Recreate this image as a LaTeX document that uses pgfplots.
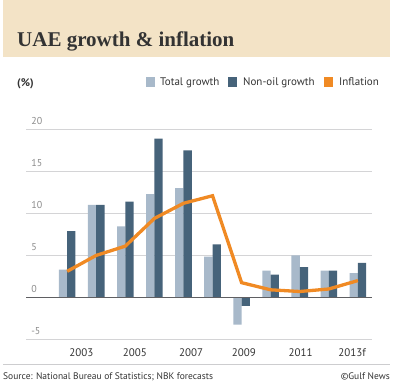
\documentclass[border=0pt]{standalone}
\usepackage{pgfplots}
\pgfplotsset{compat=1.18}
\usepackage{fontspec}
\setmainfont{PT Sans}
\newfontfamily\titlefont{Liberation Serif}
\definecolor{beige}{HTML}{F3E3C6}
\definecolor{lightbar}{HTML}{A8B9CA}
\definecolor{darkbar}{HTML}{46637A}
\definecolor{infl}{HTML}{F08A24}
\definecolor{txt}{HTML}{333333}
\definecolor{ticktxt}{HTML}{8A8A8A}
\definecolor{gridc}{RGB}{212,212,214}
\definecolor{zeroc}{RGB}{95,95,98}
\definecolor{sepc}{RGB}{205,205,207}
\begin{document}
\begin{tikzpicture}[x=1pt,y=1pt]
\path[use as bounding box] (0,0) rectangle (400,385);
\fill[beige] (3,328) rectangle (390,385);
\node[anchor=base west, inner sep=0, text=txt, font=\titlefont\bfseries\fontsize{21}{23}\selectfont] at (17,338.3) {UAE growth \& inflation};
% legend
\node[anchor=base west, inner sep=0, text=txt, font=\bfseries\fontsize{11}{13}\selectfont] at (17,298) {(\%)};
\fill[lightbar] (146,298) rectangle (155,308);
\node[anchor=base west, inner sep=0, text=txt, font=\fontsize{11}{13}\selectfont] at (160,299) {Total growth};
\fill[darkbar] (228,298) rectangle (237,308);
\node[anchor=base west, inner sep=0, text=txt, font=\fontsize{11}{13}\selectfont] at (243,299) {Non-oil growth};
\fill[infl] (324,298) rectangle (333,308);
\node[anchor=base west, inner sep=0, text=txt, font=\fontsize{11}{13}\selectfont] at (339,299) {Inflation};
\begin{axis}[
  at={(9,54.3)}, anchor=south west, scale only axis,
  width=346, height=210,
  xmin=-1.41, xmax=10.49, ymin=-5, ymax=20,
  axis line style={draw=none},
  tick style={draw=none},
  /pgf/number format/assume math mode=true,
  ytick={-5,0,5,10,15,20},
  yticklabel style={anchor=south west, inner sep=0, xshift=5pt, yshift=5pt, text=ticktxt, font=\fontsize{10}{12}\selectfont},
  xtick={0.49,2.33,4.26,6.08,8.03,9.8},
  xticklabels={2003,2005,2007,2009,2011,2013f},
  xticklabel style={text=txt, font=\fontsize{11}{13}\selectfont, yshift=-6pt},
  clip=false,
  gridl/.style={draw=gridc, line width=0.8pt, solid, mark=none, forget plot},
]
\addplot[gridl] coordinates {(-1.41,20) (10.49,20)};
\addplot[gridl] coordinates {(-1.41,15) (10.49,15)};
\addplot[gridl] coordinates {(-1.41,10) (10.49,10)};
\addplot[gridl] coordinates {(-1.41,5) (10.49,5)};
\addplot[gridl] coordinates {(-1.41,-5) (10.49,-5)};
\addplot[ybar, bar width=8.3pt, bar shift=-4.15pt, fill=lightbar, draw=none] coordinates {
(0,3.3) (1,11.0) (2,8.45) (3,12.3) (4,13.0) (5,4.85) (6,-3.25) (7,3.2) (8,5.0) (9,3.2) (10,2.9)};
\addplot[ybar, bar width=8.3pt, bar shift=4.15pt, fill=darkbar, draw=none] coordinates {
(0,7.9) (1,11.0) (2,11.4) (3,18.9) (4,17.5) (5,6.3) (6,-1.0) (7,2.7) (8,3.6) (9,3.2) (10,4.1)};
\addplot[draw=zeroc, line width=1.2pt, solid, mark=none, forget plot] coordinates {(-1.41,0) (10.49,0)};
\addplot[infl, line width=3.3pt, mark=none] coordinates {
(0,3.1) (1,5.0) (2,6.1) (3,9.4) (4,11.2) (5,12.1) (6,1.75) (7,0.9) (8,0.7) (9,1.0) (10,2.0)};
\end{axis}
\draw[sepc, line width=1pt] (3,20) -- (390,20);
\node[anchor=base west, inner sep=0, text=txt, font=\fontsize{9.5}{11}\selectfont] at (3,5) {Source: National Bureau of Statistics; NBK forecasts};
\node[anchor=base east, inner sep=0, text=txt, font=\fontsize{9.5}{11}\selectfont] at (390,5) {©Gulf News};
\end{tikzpicture}
\end{document}
